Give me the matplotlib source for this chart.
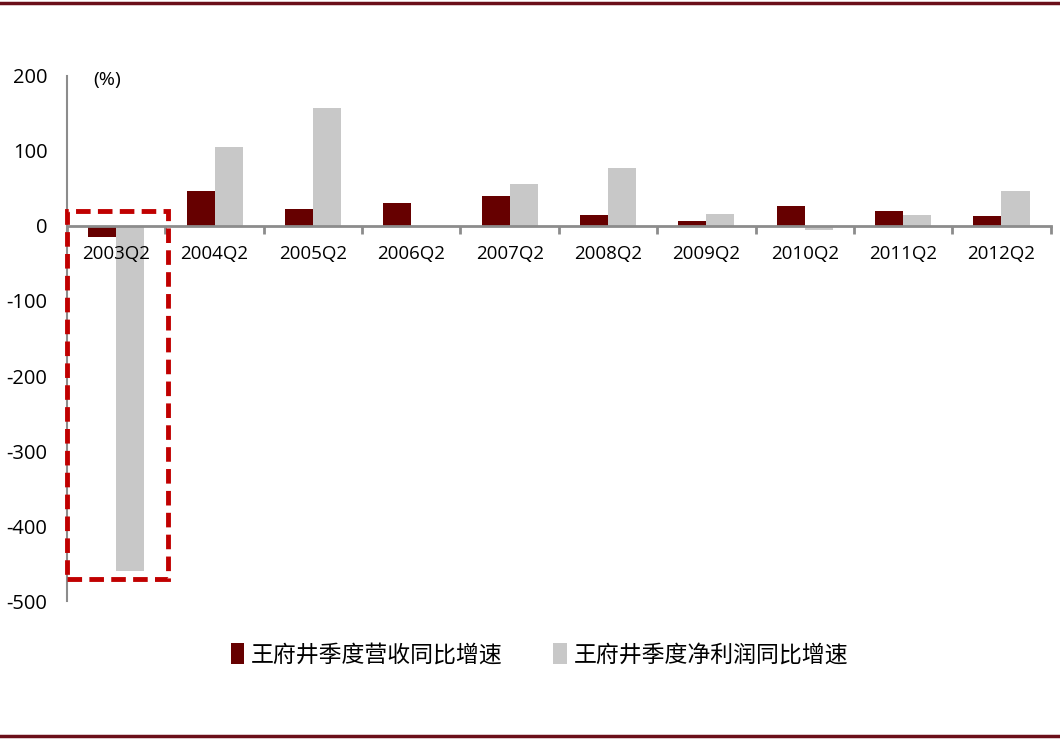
import matplotlib
matplotlib.use("Agg")
import matplotlib.pyplot as plt
from matplotlib.patches import Rectangle
from matplotlib.lines import Line2D
import numpy as np

plt.rcParams['font.family'] = ['Open Sans', 'Noto Sans CJK SC', 'DejaVu Sans']

categories = ["2003Q2", "2004Q2", "2005Q2", "2006Q2", "2007Q2",
              "2008Q2", "2009Q2", "2010Q2", "2011Q2", "2012Q2"]
revenue_growth = [-15, 47, 23, 31, 40, 15, 7, 26, 20, 13]
profit_growth = [-460, 105, 157, 0, 56, 77, 16, -6, 15, 47]
series_names = ["王府井季度营收同比增速", "王府井季度净利润同比增速"]
yticks = [200, 100, 0, -100, -200, -300, -400, -500]

c_rev = "#660000"
c_prof = "#C8C8C8"
c_box = "#C00000"
c_spine = "#8C8C8C"

fig = plt.figure(figsize=(10.6, 7.39), dpi=100)
ax = fig.add_axes([0.0632, 0.1867, 0.928, 0.7105])

x = np.arange(len(categories))
w = 0.285
ax.bar(x - w / 2, revenue_growth, w, color=c_rev, label=series_names[0], zorder=1)
ax.bar(x + w / 2, profit_growth, w, color=c_prof, label=series_names[1], zorder=1)

ax.set_xlim(-0.5, len(categories) - 0.5)
ax.set_ylim(-500, 200)
ax.set_yticks(yticks)
ax.set_yticklabels([str(v) for v in yticks], fontsize=14.5)
ax.tick_params(axis='y', length=0, pad=14)

for s in ['top', 'right']:
    ax.spines[s].set_visible(False)
ax.spines['left'].set_color(c_spine)
ax.spines['left'].set_linewidth(1.5)
ax.spines['bottom'].set_position(('data', 0))
ax.spines['bottom'].set_color(c_spine)
ax.spines['bottom'].set_linewidth(2)
ax.spines['bottom'].set_zorder(3)

ax.set_xticks(x)
ax.set_xticklabels(categories, fontsize=13.5)
ax.tick_params(axis='x', which='major', length=0, pad=14)
ax.set_xticks(np.arange(-0.5, len(categories) + 0.5, 1), minor=True)
ax.tick_params(axis='x', which='minor', length=6, width=2, color=c_spine)
ax.xaxis.set_zorder(3)

ax.text(-0.09, 195, "(%)", fontsize=14, ha='center', va='center')

# highlight box around 2003Q2
box = Rectangle((-0.5, -470), 1.03, 490, fill=False, edgecolor=c_box,
                linewidth=3.5, linestyle=(0, (3, 1.5)), zorder=5, clip_on=False)
ax.add_patch(box)

leg = fig.legend(loc='center', bbox_to_anchor=(0.509, 0.114), ncol=2, frameon=False,
                 handlelength=0.6, handleheight=1.0, handletextpad=0.3,
                 columnspacing=2.2, prop={'family': ['Noto Sans CJK SC'], 'size': 16.5})

fig.add_artist(Line2D([0, 1], [0.9965, 0.9965], color="#6B0F1A", linewidth=2.5,
                      transform=fig.transFigure))
fig.add_artist(Line2D([0, 1], [0.004, 0.004], color="#6B0F1A", linewidth=2.5,
                      transform=fig.transFigure))

fig.savefig("out.png", dpi=100)
